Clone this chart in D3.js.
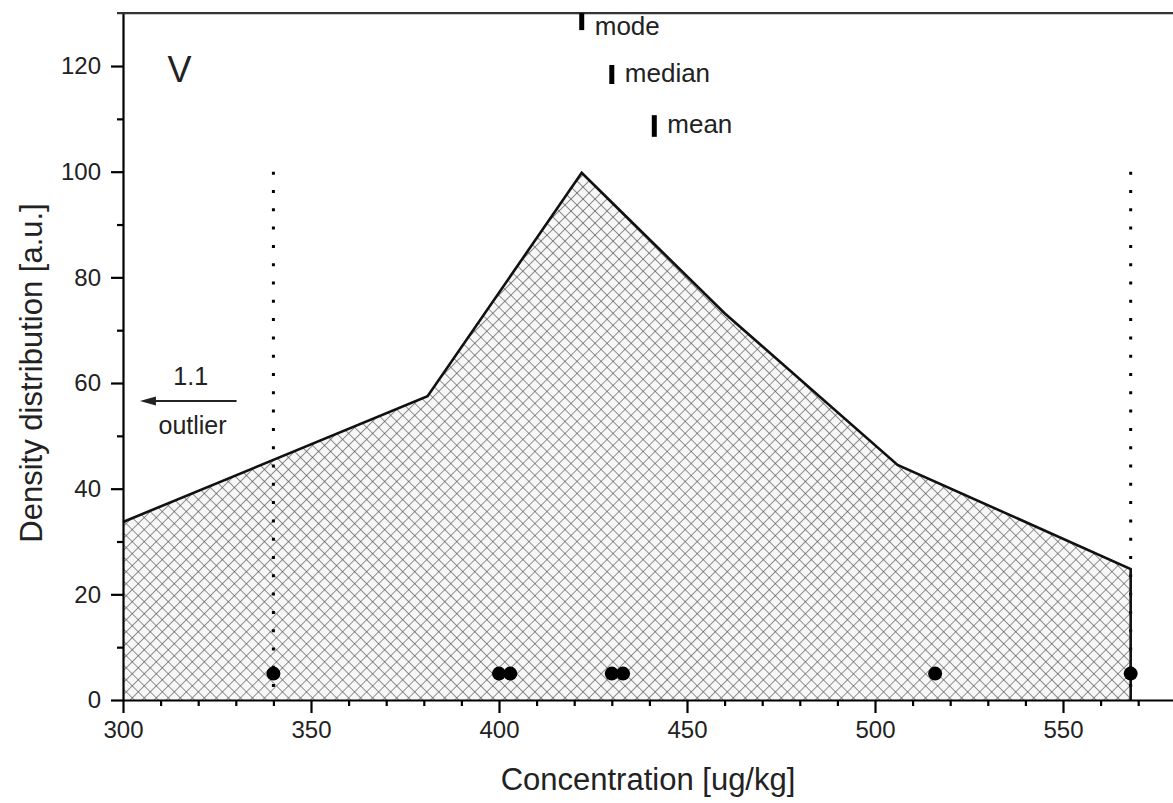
<!DOCTYPE html>
<html>
<head>
<meta charset="utf-8">
<script src="https://cdn.jsdelivr.net/npm/d3@7"></script>
<style>
  html, body { margin: 0; padding: 0; background: #fff; }
  svg { display: block; }
  text { font-family: "Liberation Sans", Arial, Helvetica, sans-serif; fill: #222; }
</style>
</head>
<body>
<svg id="chart" width="1173" height="803"></svg>
<script>
// ---- data ----
const densityX = [300, 381, 422, 460, 506, 568];
const densityY = [33.7, 57.5, 99.8, 73.2, 44.5, 24.8];
const pointsX = [340, 400, 403, 430, 433, 516, 568];
const pointY = 5;
const boundsX = [340, 568];
const boundTop = 100;
const statNames = ["mode", "median", "mean"];
const statX = [422, 430, 441.3];
const statTop = [130, 120.2, 110.7];
const statBottom = [126.8, 116.6, 106.6];
const statLabelY = [125.9, 117.0, 107.3];
const xMajorTicks = [300, 350, 400, 450, 500, 550];
const xMinorTicks = [310, 320, 330, 340, 360, 370, 380, 390, 410, 420, 430, 440, 460, 470, 480, 490, 510, 520, 530, 540, 560, 570];
const yMajorTicks = [0, 20, 40, 60, 80, 100, 120];
const yMinorTicks = [10, 30, 50, 70, 90, 110];
const panelLabel = "V";
const outlierValue = "1.1";
const outlierText = "outlier";
const xTitle = "Concentration [ug/kg]";
const yTitle = "Density distribution [a.u.]";

// ---- layout ----
const svg = d3.select("#chart");
const x = d3.scaleLinear().domain([300, 580]).range([123, 123 + 280 * 3.76]);
const y = d3.scaleLinear().domain([0, 130]).range([700, 13.2]);

// hatch pattern
const defs = svg.append("defs");
const pat = defs.append("pattern")
  .attr("id", "hatch").attr("patternUnits", "userSpaceOnUse")
  .attr("width", 8.5).attr("height", 8.5)
  .attr("patternTransform", "rotate(45)");
pat.append("rect").attr("width", 8.5).attr("height", 8.5).attr("fill", "#f7f7f7");
pat.append("line").attr("x1", 0).attr("y1", 0).attr("x2", 8.5).attr("y2", 0)
  .attr("stroke", "#4d4d4d").attr("stroke-width", 1.2);
pat.append("line").attr("x1", 0).attr("y1", 0).attr("x2", 0).attr("y2", 8.5)
  .attr("stroke", "#4d4d4d").attr("stroke-width", 1.2);

const pts = densityX.map((d, i) => [d, densityY[i]]);

// filled area
const area = d3.area().x(d => x(d[0])).y0(y(0)).y1(d => y(d[1]));
svg.append("path").datum(pts).attr("d", area).attr("fill", "url(#hatch)");

// dotted bounds
svg.selectAll(".bound").data(boundsX).enter().append("line")
  .attr("x1", d => x(d)).attr("x2", d => x(d))
  .attr("y1", y(boundTop)).attr("y2", y(0))
  .attr("stroke", "#000").attr("stroke-width", 3)
  .attr("stroke-dasharray", "3,15.3");

// outline
const lastX = densityX[densityX.length - 1];
const line = d3.line().x(d => x(d[0])).y(d => y(d[1]));
svg.append("path").datum(pts.concat([[lastX, 0]])).attr("d", line)
  .attr("fill", "none").attr("stroke", "#111").attr("stroke-width", 2.6)
  .attr("stroke-linejoin", "miter");

// points
svg.selectAll(".pt").data(pointsX).enter().append("circle")
  .attr("cx", d => x(d)).attr("cy", y(pointY)).attr("r", 7).attr("fill", "#000");

// axes
const axisG = svg.append("g");
const xMaj = d3.axisBottom(x).tickValues(xMajorTicks).tickSize(13).tickSizeOuter(0).tickPadding(8);
const gx = axisG.append("g").attr("transform", `translate(0,${y(0)})`).call(xMaj);
gx.select(".domain").attr("stroke-width", 2.2);
gx.selectAll(".tick line").attr("stroke-width", 2.2);
gx.selectAll("text").attr("font-size", 24).style("fill", "#222")
  .attr("font-family", "'Liberation Sans', Arial, sans-serif");
const xMin = d3.axisBottom(x).tickValues(xMinorTicks).tickSize(6).tickSizeOuter(0).tickFormat("");
const gxm = axisG.append("g").attr("transform", `translate(0,${y(0)})`).call(xMin);
gxm.select(".domain").remove();
gxm.selectAll(".tick line").attr("stroke-width", 2.2);

const yMaj = d3.axisLeft(y).tickValues(yMajorTicks).tickSize(12).tickSizeOuter(0).tickPadding(10);
const gy = axisG.append("g").attr("transform", `translate(${x(300)},0)`).call(yMaj);
gy.select(".domain").attr("stroke-width", 2.2);
gy.selectAll(".tick line").attr("stroke-width", 2.2);
gy.selectAll("text").attr("font-size", 24).style("fill", "#222")
  .attr("font-family", "'Liberation Sans', Arial, sans-serif");
const yMin = d3.axisLeft(y).tickValues(yMinorTicks).tickSize(6).tickSizeOuter(0).tickFormat("");
const gym = axisG.append("g").attr("transform", `translate(${x(300)},0)`).call(yMin);
gym.select(".domain").remove();
gym.selectAll(".tick line").attr("stroke-width", 2.2);

// top frame line
svg.append("line").attr("x1", x(300) - 6).attr("x2", 1173)
  .attr("y1", y(130)).attr("y2", y(130))
  .attr("stroke", "#333").attr("stroke-width", 2.2);

// stat markers
statNames.forEach((name, i) => {
  svg.append("rect")
    .attr("x", x(statX[i]) - 2.5).attr("width", 5)
    .attr("y", y(statTop[i])).attr("height", y(statBottom[i]) - y(statTop[i]))
    .attr("fill", "#000");
  svg.append("text")
    .attr("x", x(statX[i]) + 13).attr("y", y(statLabelY[i]))
    .attr("font-size", 26).text(name);
});

// panel label
svg.append("text").attr("x", x(315)).attr("y", y(116.9))
  .attr("text-anchor", "middle").attr("font-size", 36).text(panelLabel);

// outlier arrow
const arrowY = y(56.6);
const tipX = x(304.5);
svg.append("line")
  .attr("x1", x(330.2)).attr("x2", tipX + 10)
  .attr("y1", arrowY).attr("y2", arrowY)
  .attr("stroke", "#222").attr("stroke-width", 2);
svg.append("path")
  .attr("d", `M${tipX},${arrowY} L${tipX + 16},${arrowY - 4.5} L${tipX + 16},${arrowY + 4.5} Z`)
  .attr("fill", "#222");
svg.append("text").attr("x", x(318)).attr("y", y(59.6))
  .attr("text-anchor", "middle").attr("font-size", 25).text(outlierValue);
svg.append("text").attr("x", x(318.5)).attr("y", y(50.3))
  .attr("text-anchor", "middle").attr("font-size", 25).text(outlierText);

// axis titles
svg.append("text").attr("x", (x(300) + 1173) / 2).attr("y", 790)
  .attr("text-anchor", "middle").attr("font-size", 31).text(xTitle);
svg.append("text").attr("transform", "translate(42,373) rotate(-90)")
  .attr("text-anchor", "middle").attr("font-size", 31).text(yTitle);
</script>
</body>
</html>
